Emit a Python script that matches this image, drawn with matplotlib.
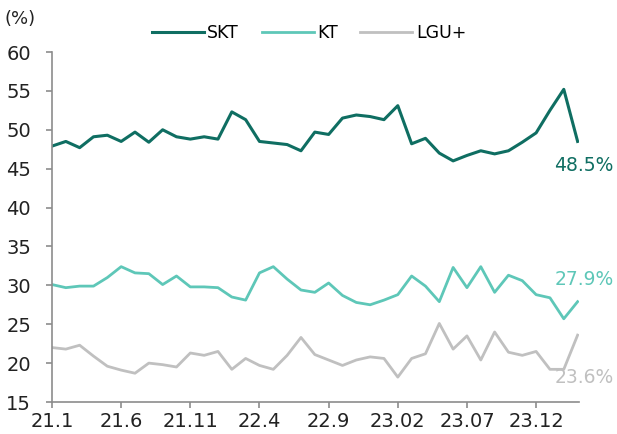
import matplotlib
matplotlib.use("Agg")
import matplotlib.pyplot as plt

plt.rcParams['font.family'] = ['Liberation Sans Narrow', 'DejaVu Sans']

# monthly share, 21.1 .. 24.3
months = list(range(39))
tick_pos = [0, 5, 10, 15, 20, 25, 30, 35]
tick_labels = ['21.1', '21.6', '21.11', '22.4', '22.9', '23.02', '23.07', '23.12']

skt = [47.9, 48.5, 47.7, 49.1, 49.3, 48.5, 49.7, 48.4, 50.0, 49.1,
       48.8, 49.1, 48.8, 52.3, 51.3, 48.5, 48.3, 48.1, 47.3, 49.7,
       49.4, 51.5, 51.9, 51.7, 51.3, 53.1, 48.2, 48.9, 47.0, 46.0,
       46.7, 47.3, 46.9, 47.3, 48.4, 49.6, 52.5, 55.2, 48.5]
kt = [30.1, 29.7, 29.9, 29.9, 31.0, 32.4, 31.6, 31.5, 30.1, 31.2,
      29.8, 29.8, 29.7, 28.5, 28.1, 31.6, 32.4, 30.8, 29.4, 29.1,
      30.3, 28.7, 27.8, 27.5, 28.1, 28.8, 31.2, 29.9, 27.9, 32.3,
      29.7, 32.4, 29.1, 31.3, 30.6, 28.8, 28.4, 25.7, 27.9]
lgu = [22.0, 21.8, 22.3, 20.9, 19.6, 19.1, 18.7, 20.0, 19.8, 19.5,
       21.3, 21.0, 21.5, 19.2, 20.6, 19.7, 19.2, 21.0, 23.3, 21.1,
       20.4, 19.7, 20.4, 20.8, 20.6, 18.2, 20.6, 21.2, 25.1, 21.8,
       23.5, 20.4, 24.0, 21.4, 21.0, 21.5, 19.2, 19.2, 23.6]

SKT_COLOR = '#0f6e62'
KT_COLOR = '#5ec7b8'
LGU_COLOR = '#c0c0c0'
AXIS_COLOR = '#8c8c8c'
TEXT_COLOR = '#222222'

fig = plt.figure(figsize=(6.17, 4.34), dpi=100)
ax = fig.add_axes([52 / 617, 1 - 402 / 434, 527 / 617, 350 / 434])

ax.plot(months, skt, color=SKT_COLOR, lw=2.2, label='SKT')
ax.plot(months, kt, color=KT_COLOR, lw=2.0, label='KT')
ax.plot(months, lgu, color=LGU_COLOR, lw=2.0, label='LGU+')

ax.set_xlim(0, 38.1)
ax.set_ylim(15, 60)
ax.set_yticks(range(15, 61, 5))
ax.set_xticks(tick_pos)
ax.set_xticklabels(tick_labels)

for side in ['top', 'right']:
    ax.spines[side].set_visible(False)
for side in ['left', 'bottom']:
    ax.spines[side].set_color(AXIS_COLOR)
    ax.spines[side].set_linewidth(1.2)
ax.tick_params(axis='both', colors=AXIS_COLOR, length=4, width=1.2,
               labelcolor=TEXT_COLOR, labelsize=14)
ax.tick_params(axis='y', pad=11)
ax.tick_params(axis='x', pad=3)

# end-of-series value labels, right-aligned near the figure edge
last = months[-1]
for vals, col, dy in [(skt, SKT_COLOR, -24), (kt, KT_COLOR, 22), (lgu, LGU_COLOR, -42)]:
    ax.annotate(f"{vals[-1]:.1f}%", xy=(last, vals[-1]), xytext=(36, dy),
                textcoords='offset pixels', ha='right', va='center',
                color=col, fontsize=13.5, annotation_clip=False)

fig.text(5 / 617, 1 - 19 / 434, '(%)', ha='left', va='center', fontsize=13, color=TEXT_COLOR)

fig.legend(loc='center', bbox_to_anchor=(309 / 617, 1 - 33 / 434), ncol=3, frameon=False,
           fontsize=12.5, handlelength=3.0, handletextpad=0.2, columnspacing=1.3)

fig.savefig('out.png', dpi=100)
